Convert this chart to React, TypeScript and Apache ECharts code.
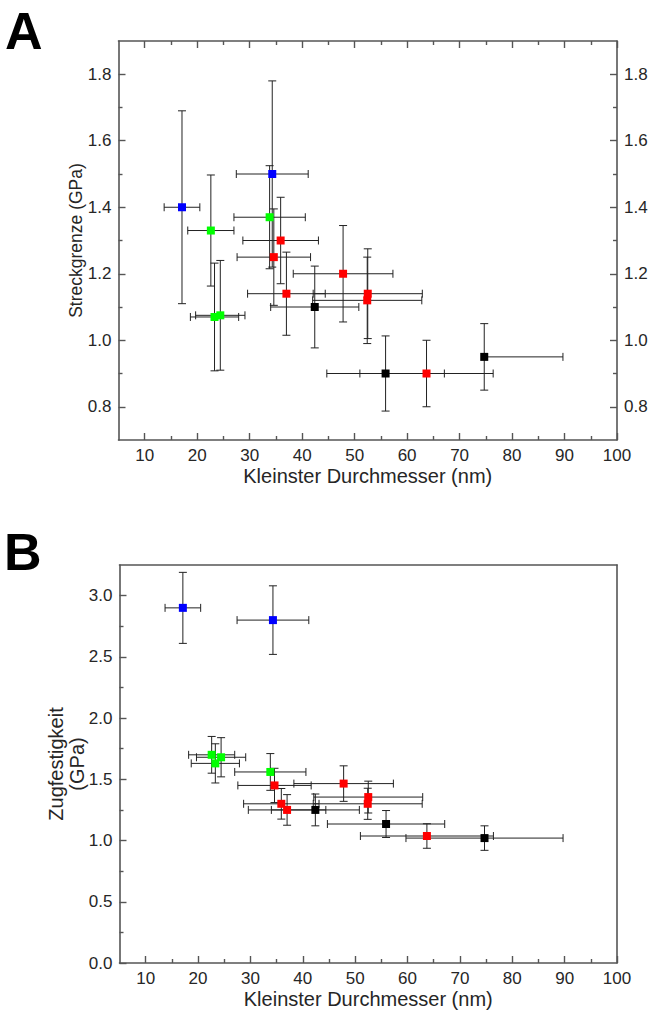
import React, { useEffect, useRef } from "react";
import * as echarts from "echarts";

// ---------- data (x = smallest diameter in nm, ± error) ----------
const blueX = [17.1, 34.3];
const blueXErr = [3.4, 6.85];
const greenX = [22.6, 33.8, 23.3, 24.4];
const greenXErr = [4.4, 6.8, 4.6, 4.7];
const redX = [34.6, 35.9, 37.0, 47.8, 52.5, 52.4, 63.7];
const redXErr = [7.0, 7.2, 7.4, 9.5, 10.4, 10.4, 12.7];
const blackX = [42.4, 55.9, 74.7];
const blackXErr = [8.4, 11.2, 15.0];
const blackXErrMinusA = [8.4, 11.2, 0];

// Panel A: Streckgrenze (GPa)
const blueYieldA = [1.4, 1.5];
const blueYieldErrA = [0.29, 0.28];
const greenYieldA = [1.33, 1.37, 1.07, 1.075];
const greenYieldErrA = [0.167, 0.155, 0.162, 0.165];
const redYieldA = [1.25, 1.3, 1.14, 1.2, 1.14, 1.12, 0.9];
const redYieldErrA = [0.145, 0.13, 0.125, 0.145, 0.135, 0.13, 0.1];
const blackYieldA = [1.1, 0.9, 0.95];
const blackYieldErrA = [0.123, 0.113, 0.1];

// Panel B: Zugfestigkeit (GPa)
const blueTensileB = [2.9, 2.8];
const blueTensileErrB = [0.29, 0.28];
const greenTensileB = [1.7, 1.56, 1.63, 1.68];
const greenTensileErrB = [0.15, 0.15, 0.16, 0.16];
const redTensileB = [1.45, 1.3, 1.25, 1.465, 1.355, 1.3, 1.037];
const redTensileErrB = [0.14, 0.125, 0.125, 0.145, 0.13, 0.127, 0.1];
const blackTensileB = [1.25, 1.135, 1.02];
const blackTensileErrB = [0.13, 0.11, 0.1];

// axes ticks
const xMajor = [10, 20, 30, 40, 50, 60, 70, 80, 90, 100];
const xMinor = [15, 25, 35, 45, 55, 65, 75, 85, 95];
const yMajorA = [0.8, 1.0, 1.2, 1.4, 1.6, 1.8];
const yMinorA = [0.9, 1.1, 1.3, 1.5, 1.7];
const yMajorB = [0, 0.5, 1.0, 1.5, 2.0, 2.5, 3.0];
const yMinorB = [0.25, 0.75, 1.25, 1.75, 2.25, 2.75];

const FONT = "'Liberation Sans', Arial, sans-serif";
const AXIS_COLOR = "#555";
const TEXT_COLOR = "#262626";

function rows(x: number[], xm: number[], xp: number[], y: number[], ye: number[]) {
  return x.map((xv, i) => [xv, y[i], xv - xm[i], xv + xp[i], y[i] - ye[i], y[i] + ye[i]]);
}

const renderErr = (params: any, api: any) => {
  const x = api.value(0);
  const y = api.value(1);
  const xl = api.value(2);
  const xh = api.value(3);
  const yl = api.value(4);
  const yh = api.value(5);
  const pl = api.coord([xl, y]);
  const ph = api.coord([xh, y]);
  const pb = api.coord([x, yl]);
  const pt = api.coord([x, yh]);
  const cap = 4;
  const style = { stroke: "#222", lineWidth: 1, fill: null };
  const ln = (x1: number, y1: number, x2: number, y2: number) => ({
    type: "line",
    shape: { x1, y1, x2, y2 },
    style,
  });
  const children: any[] = [
    ln(pb[0], pb[1], pt[0], pt[1]),
    ln(pt[0] - cap, pt[1], pt[0] + cap, pt[1]),
    ln(pb[0] - cap, pb[1], pb[0] + cap, pb[1]),
    ln(pl[0], pl[1], ph[0], ph[1]),
  ];
  if (xl < x) children.push(ln(pl[0], pl[1] - cap, pl[0], pl[1] + cap));
  if (xh > x) children.push(ln(ph[0], ph[1] - cap, ph[0], ph[1] + cap));
  return { type: "group", children };
};

function axis(
  gridIndex: number,
  position: string,
  min: number,
  max: number,
  ticks: number[],
  len: number,
  opt: any = {}
) {
  const a: any = {
    type: "value",
    gridIndex,
    position,
    min,
    max,
    splitLine: { show: false },
    axisLine: { show: !!opt.line, onZero: false, lineStyle: { color: AXIS_COLOR, width: 1.6 } },
    axisTick: {
      show: ticks.length > 0,
      inside: true,
      length: len,
      customValues: ticks,
      lineStyle: { color: AXIS_COLOR, width: 1.4 },
    },
    axisLabel: opt.labels
      ? {
          show: true,
          customValues: ticks,
          formatter: (v: number) => (opt.dec ? v.toFixed(opt.dec) : String(Math.round(v))),
          fontFamily: FONT,
          fontSize: 17,
          color: TEXT_COLOR,
          margin: opt.margin ?? 7,
        }
      : { show: false },
  };
  if (opt.name) {
    a.name = opt.name;
    a.nameLocation = "middle";
    a.nameGap = opt.nameGap;
    a.nameMoveOverlap = false;
    a.nameTextStyle = {
      fontFamily: FONT,
      fontSize: opt.nameSize,
      color: TEXT_COLOR,
      lineHeight: opt.lineHeight,
    };
  }
  return a;
}

const COLORS = { blue: "#0000ff", green: "#00ff00", red: "#ff0000", black: "#000000" };

function panelSeries(xi: number, yi: number, groups: { color: string; data: number[][] }[]) {
  const out: any[] = [];
  groups.forEach((g) => {
    out.push({
      type: "custom",
      xAxisIndex: xi,
      yAxisIndex: yi,
      renderItem: renderErr,
      encode: { x: 0, y: 1 },
      data: g.data,
      z: 2,
      silent: true,
    });
  });
  groups.forEach((g) => {
    out.push({
      type: "scatter",
      xAxisIndex: xi,
      yAxisIndex: yi,
      symbol: "rect",
      symbolSize: 8,
      itemStyle: { color: g.color, opacity: 1 },
      data: g.data.map((r) => [r[0], r[1]]),
      z: 3,
      silent: true,
    });
  });
  return out;
}

export default function App() {
  const ref = useRef<HTMLDivElement>(null);
  useEffect(() => {
    if (!ref.current) return;
    const chart = echarts.init(ref.current, undefined, { renderer: "svg" });

    const groupsA = [
      { color: COLORS.blue, data: rows(blueX, blueXErr, blueXErr, blueYieldA, blueYieldErrA) },
      { color: COLORS.green, data: rows(greenX, greenXErr, greenXErr, greenYieldA, greenYieldErrA) },
      { color: COLORS.red, data: rows(redX, redXErr, redXErr, redYieldA, redYieldErrA) },
      { color: COLORS.black, data: rows(blackX, blackXErrMinusA, blackXErr, blackYieldA, blackYieldErrA) },
    ];
    const groupsB = [
      { color: COLORS.blue, data: rows(blueX, blueXErr, blueXErr, blueTensileB, blueTensileErrB) },
      { color: COLORS.green, data: rows(greenX, greenXErr, greenXErr, greenTensileB, greenTensileErrB) },
      { color: COLORS.red, data: rows(redX, redXErr, redXErr, redTensileB, redTensileErrB) },
      { color: COLORS.black, data: rows(blackX, blackXErr, blackXErr, blackTensileB, blackTensileErrB) },
    ];

    const option: any = {
      animation: false,
      backgroundColor: "#ffffff",
      grid: [
        { left: 118.5, top: 41, width: 498.5, height: 399, containLabel: false },
        { left: 119.5, top: 565, width: 497.5, height: 398, containLabel: false },
      ],
      xAxis: [
        // panel A
        axis(0, "bottom", 5, 100, xMajor, 7, {
          line: true,
          labels: true,
          name: "Kleinster Durchmesser (nm)",
          nameGap: 26,
          nameSize: 20,
        }),
        axis(0, "bottom", 5, 100, xMinor, 4),
        axis(0, "top", 5, 100, xMajor, 7, { line: true }),
        axis(0, "top", 5, 100, xMinor, 4),
        // panel B
        axis(1, "bottom", 5, 100, xMajor, 7, {
          line: true,
          labels: true,
          name: "Kleinster Durchmesser (nm)",
          nameGap: 26,
          nameSize: 20,
        }),
        axis(1, "bottom", 5, 100, xMinor, 4),
        axis(1, "top", 5, 100, [], 0, { line: true }),
      ],
      yAxis: [
        // panel A
        axis(0, "left", 0.7, 1.9, yMajorA, 7, {
          line: true,
          labels: true,
          dec: 1,
          name: "Streckgrenze (GPa)",
          nameGap: 34,
          nameSize: 17.5,
        }),
        axis(0, "left", 0.7, 1.9, yMinorA, 4),
        axis(0, "right", 0.7, 1.9, yMajorA, 7, { line: true, labels: true, dec: 1 }),
        axis(0, "right", 0.7, 1.9, yMinorA, 4),
        // panel B
        axis(1, "left", 0, 3.25, yMajorB, 7, {
          line: true,
          labels: true,
          dec: 1,
          name: "Zugfestigkeit\n(GPa)",
          nameGap: 32,
          nameSize: 20,
          lineHeight: 21,
        }),
        axis(1, "left", 0, 3.25, yMinorB, 4),
        axis(1, "right", 0, 3.25, [], 0, { line: true }),
      ],
      series: [...panelSeries(0, 0, groupsA), ...panelSeries(4, 4, groupsB)],
      graphic: [
        {
          type: "text",
          left: 5,
          top: 5,
          style: { text: "A", fontFamily: FONT, fontWeight: 900, fontSize: 52, fill: "#000" },
        },
        {
          type: "text",
          left: 4,
          top: 526,
          style: { text: "B", fontFamily: FONT, fontWeight: 900, fontSize: 52, fill: "#000" },
        },
      ],
    };
    chart.setOption(option);
    return () => chart.dispose();
  }, []);

  return (
    <div
      ref={ref}
      style={{ position: "absolute", left: 0, top: 0, width: 652, height: 1023, background: "#fff" }}
    />
  );
}
